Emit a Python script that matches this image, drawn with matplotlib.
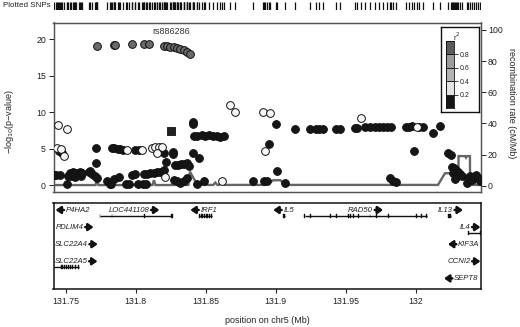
import matplotlib
matplotlib.use('Agg')
import matplotlib.pyplot as plt
from matplotlib.patches import Rectangle

plt.rcParams['font.family'] = ['Liberation Sans', 'DejaVu Sans']

# ---------------- data ----------------
# r^2 >= 0.8 (dark grey)
hi_pos = [131.7726, 131.7844, 131.7856, 131.7971, 131.8063, 131.8094, 131.8201, 131.8225,
          131.8249, 131.8272, 131.8296, 131.8320, 131.8343, 131.8368, 131.8386]
hi_logp = [19.1, 19.2, 19.2, 19.3, 19.35, 19.35, 19.05, 19.05, 19.0, 18.95, 18.85, 18.7,
           18.5, 18.2, 17.95]

# r^2 0.2-0.4 (white)
mid_pos = [131.7445, 131.7512, 131.7441, 131.7464, 131.7488, 131.7940, 131.8047, 131.8118,
           131.8138, 131.8165, 131.8192, 131.8154, 131.8208, 131.8617, 131.8676, 131.8707,
           131.8909, 131.8961, 131.8926, 131.9610, 132.0007]
mid_logp = [8.3, 7.7, 5.05, 5.0, 4.0, 4.8, 4.85, 5.1, 5.2, 5.25, 5.2, 4.35, 1.14, 0.55, 11.0,
            10.07, 9.98, 9.85, 4.71, 9.25, 8.0]

# r^2 < 0.2 (black)
low_pos = [131.7452, 131.7476, 131.7418, 131.7429, 131.7457, 131.7512, 131.7514, 131.7529,
           131.7536, 131.7550, 131.7557, 131.7564, 131.7571, 131.7578, 131.7593, 131.7600,
           131.7607, 131.7614, 131.7664, 131.7678, 131.7692, 131.7707, 131.7721, 131.7719,
           131.7719, 131.7797, 131.7814, 131.7828, 131.7844, 131.7880, 131.7935, 131.7951,
           131.7976, 131.7999, 131.8015, 131.8054, 131.8075, 131.7833, 131.7849, 131.7871,
           131.7892, 131.7913, 131.7999, 131.8023, 131.8058, 131.8082, 131.8106, 131.8129,
           131.8154, 131.8177, 131.8201, 131.8201, 131.8218, 131.8268, 131.8268, 131.8284,
           131.8306, 131.8327, 131.8348, 131.8370, 131.8384, 131.8272, 131.8296, 131.8320,
           131.8343, 131.8368, 131.8410, 131.8410, 131.8410, 131.8450, 131.8439, 131.8486,
           131.8415, 131.8439, 131.8475, 131.8498, 131.8522, 131.8550, 131.8581, 131.8605,
           131.8634, 131.8835, 131.8914, 131.8938, 131.8956, 131.9002, 131.9009, 131.9068,
           131.9135, 131.9242, 131.9289, 131.9313, 131.9337, 131.9432, 131.9456, 131.9567,
           131.9584, 131.9639, 131.9674, 131.9710, 131.9741, 131.9769, 131.9798, 131.9822,
           131.9929, 131.9952, 131.9976, 132.0024, 132.0054, 132.0121, 132.0173, 131.9988,
           131.9817, 131.9838, 131.9860, 132.0233, 132.0252, 132.0259, 132.0273, 132.0287,
           132.0302, 132.0266, 132.0295, 132.0316, 132.0330, 132.0280, 132.0364, 132.0373,
           132.0387, 132.0402, 132.0416, 132.0430, 132.0444, 132.0459]
low_logp = [4.67, 4.45, 1.4, 1.35, 1.35, 0.1, 1.3, 1.6,
            1.2, 1.8, 1.5, 1.3, 1.1, 1.7, 1.5, 1.8,
            1.3, 1.6, 1.8, 1.9, 1.5, 1.2, 1.0, 5.12,
            3.07, 0.55, 0.2, 0.1, 0.78, 1.14, 0.1, 0.1,
            1.37, 1.5, 0.1, 0.1, 0.1, 5.1, 5.05, 5.0,
            4.9, 4.85, 4.8, 4.8, 1.5, 1.5, 1.6, 1.7,
            1.83, 1.83, 2.06, 4.35, 3.2, 4.57, 4.2, 2.8,
            2.8, 2.9, 2.9, 3.0, 2.6, 0.7, 0.5, 0.3,
            0.6, 0.9, 8.7, 8.4, 4.44, 3.75, 0.2, 0.55,
            6.8, 6.7, 6.85, 6.7, 6.85, 6.75, 6.7, 6.6,
            6.7, 0.55, 0.55, 0.55, 5.63, 8.33, 1.92, 0.23,
            7.69, 7.69, 7.69, 7.69, 7.69, 7.69, 7.69, 7.8,
            7.8, 8.0, 8.0, 8.0, 8.0, 8.0, 8.0, 8.0,
            8.0, 8.0, 8.05, 8.0, 8.0, 7.1, 8.1, 4.7,
            0.9, 0.6, 0.4, 4.35, 4.1, 2.5, 2.3, 2.0,
            1.8, 1.6, 1.3, 1.5, 1.2, 0.8, 0.3, 0.9,
            1.2, 0.7, 1.1, 1.4, 0.9, 0.6]

index_name = 'rs886286'
index_pos = 131.8256
index_logp = 7.46

# recombination rate (cM/Mb)
recomb_pos = [131.7414, 131.7714, 131.7725, 131.7735, 131.8120, 131.8131, 131.8142, 131.8377,
              131.8388, 131.8441, 131.8555, 131.8569, 131.8584, 131.8598, 131.8612, 131.8634,
              131.8926, 131.8983, 131.9033, 131.9076, 132.0159, 132.0209, 132.0259, 132.0287,
              132.0305, 132.0306, 132.0352, 132.0359, 132.0366, 132.0387, 132.0388, 132.0466]
recomb_rate = [0.4, 0.4, 4.0, 0.4, 0.4, 3.5, 0.4, 0.5,
               9.0, 0.5, 0.5, 2.0, 0.5, 0.5, 2.5, 0.5,
               0.5, 3.5, 3.5, 0.5, 0.5, 8.0, 8.0, 11.4,
               11.4, 19.0, 19.0, 18.0, 19.0, 19.0, 0.5, 0.5]

# genes
gene_names = ['P4HA2', 'LOC441108', 'IRF1', 'IL5', 'RAD50', 'IL13', 'PDLIM4', 'IL4',
              'SLC22A4', 'KIF3A', 'SLC22A5', 'CCNI2', 'SEPT8']
gene_start = [131.55, 131.7745, 131.8453, 131.9052, 131.9206, 132.0228, 131.62, 132.0375,
              131.69, 132.06, 131.7300, 132.12, 132.10]
gene_end = [131.59, 131.8261, 131.8546, 131.9070, 132.0077, 132.0250, 131.65, 132.0530,
            131.73, 132.10, 131.7595, 132.14, 132.13]
gene_strand = [-1, 1, -1, -1, 1, 1, 1, 1, 1, -1, 1, 1, -1]
gene_row = [0, 0, 0, 0, 0, 0, 1, 1, 2, 2, 3, 3, 4]
gene_label_tip = [131.7429, 131.8170, 131.8391, 131.8983, 131.9767, 132.0337, 131.7700,
                  132.0462, 131.7730, 132.0230, 131.7728, 132.0462, 132.0202]
gene_exons = [
    [],
    [(131.7743, 131.7749), (131.7831, 131.7835), (131.8061, 131.8065), (131.8255, 131.8265)],
    [(131.8450, 131.8462), (131.8468, 131.8480), (131.8486, 131.8498), (131.8504, 131.8516),
     (131.8522, 131.8534), (131.8538, 131.8548)],
    [(131.9055, 131.9068)],
    [(131.9203, 131.9209), (131.9244, 131.9250), (131.9386, 131.9392), (131.9434, 131.9440),
     (131.9517, 131.9523), (131.9529, 131.9535), (131.9552, 131.9558), (131.9588, 131.9594),
     (131.9671, 131.9677), (131.9719, 131.9725), (131.9802, 131.9808), (132.0004, 132.0010),
     (132.0040, 132.0046), (132.0071, 132.0077)],
    [(132.0230, 132.0250)],
    [],
    [(132.0372, 132.0378), (132.0457, 132.0463)],
    [],
    [],
    [(131.7470, 131.7482), (131.7488, 131.7498), (131.7503, 131.7511), (131.7517, 131.7525),
     (131.7532, 131.7540), (131.7546, 131.7554), (131.7567, 131.7575), (131.7589, 131.7597)],
    [],
    [],
]

xticks = [131.75, 131.8, 131.85, 131.9, 131.95, 132.0]
xtick_labels = ['131.75', '131.8', '131.85', '131.9', '131.95', '132']
r2_bins = [0.0, 0.2, 0.4, 0.6, 0.8, 1.0]
r2_colors = ['#161616', '#e4e4e4', '#b4b4b4', '#9c9c9c', '#5c5c5c']

# ---------------- layout ----------------
W, H = 520, 327
fig = plt.figure(figsize=(W / 100, H / 100), dpi=100)


def px_axes(x0, y0, x1, y1):
    return fig.add_axes([x0 / W, (H - y1) / H, (x1 - x0) / W, (y1 - y0) / H])


XLIM = (131.7414, 132.0466)
main_l, main_r = 53.5, 481.0

ax = px_axes(main_l, 22.5, main_r, 192.0)
ax2 = ax.twinx()
ax.set_zorder(ax2.get_zorder() + 1)
ax.patch.set_visible(False)

ax2.plot(recomb_pos, recomb_rate, color='#666666', lw=1.7, solid_joinstyle='miter', zorder=1)
ax2.set_ylim(-4.05, 104.8)
ax2.set_yticks([0, 20, 40, 60, 80, 100])
ax2.tick_params(axis='y', labelsize=6.3, length=3.5, width=0.7, pad=1.5, colors='#222222')
ax2.set_ylabel('recombination rate (cM/Mb)', rotation=270, fontsize=6.5, color='#222222')
ax2.yaxis.set_label_coords(1.082, 0.525)

mk = dict(s=31, linewidths=0.7, edgecolors='#111111', zorder=3)
ax.scatter(low_pos, low_logp, c=r2_colors[0], **mk)
ax.scatter(mid_pos, mid_logp, c='#f7f7f7', **mk)
ax.scatter(hi_pos, hi_logp, c='#6a6a6a', **mk)
ax.scatter([index_pos], [index_logp], marker='s', s=26, c='#222222', edgecolors='#111111',
           linewidths=0.6, zorder=4)
ax.text(index_pos, 21.15, index_name, ha='center', va='center', fontsize=6.5, color='#333333')

ax.set_xlim(*XLIM)
ax2.set_xlim(*XLIM)
ax.set_ylim(-0.96, 22.32)
ax.set_yticks([0, 5, 10, 15, 20])
ax.set_xticks([])
ax.tick_params(axis='y', labelsize=6.3, length=3.5, width=0.7, pad=2, colors='#222222')
ax.set_ylabel('\u2212log$_{10}$(p\u2212value)', fontsize=6.5, color='#222222')
ax.yaxis.set_label_coords(-0.088, 0.413)
for a in (ax, ax2):
    for s in a.spines.values():
        s.set_color('#555555')
        s.set_linewidth(0.9)

# ---------------- rug ----------------
axr = px_axes(main_l, 1.5, main_r, 9.5)
all_pos = low_pos + mid_pos + hi_pos + [index_pos]
axr.vlines(all_pos, 0, 1, color='#111111', lw=0.9)
axr.set_xlim(*XLIM)
axr.set_ylim(0, 1)
axr.axis('off')
fig.text(50.5 / W, (H - 5.5) / H, 'Plotted SNPs', ha='right', va='center', fontsize=5.8,
         color='#222222')

# ---------------- r2 legend ----------------
axl = px_axes(440.7, 26.7, 479.0, 112.3)
axl.set_xticks([])
axl.set_yticks([])
for s in axl.spines.values():
    s.set_color('#111111')
    s.set_linewidth(1.0)
axl.text(0.43, 0.885, 'r$^2$', transform=axl.transAxes, ha='center', va='center',
         fontsize=5.5, color='#222222')

axc = px_axes(446.0, 40.7, 454.3, 108.3)
for i in range(len(r2_colors)):
    axc.add_patch(Rectangle((0, r2_bins[i]), 1, r2_bins[i + 1] - r2_bins[i],
                            facecolor=r2_colors[i], edgecolor='#111111', lw=0.6))
axc.set_xlim(0, 1)
axc.set_ylim(0, 1)
axc.set_xticks([])
axc.yaxis.tick_right()
axc.set_yticks([0.2, 0.4, 0.6, 0.8])
axc.set_yticklabels(['0.2', '0.4', '0.6', '0.8'])
axc.tick_params(axis='y', labelsize=5, length=3, width=0.6, pad=0.8, colors='#222222')
for s in axc.spines.values():
    s.set_color('#111111')
    s.set_linewidth(0.6)

# ---------------- genes ----------------
axg = px_axes(main_l, 203.0, main_r, 289.0)
axg.set_xlim(*XLIM)
axg.set_ylim(86, 0)
row_y0, row_dy, line_off = 7.0, 17.1, 5.7
arrow_pts, gap_pts = 6.0, 1.2
for name, st, en, strand, row, tip, exons in zip(gene_names, gene_start, gene_end, gene_strand,
                                                  gene_row, gene_label_tip, gene_exons):
    ly = row_y0 + row * row_dy
    gy = ly + line_off
    axg.plot([st, en], [gy, gy], color='#111111', lw=1.0, solid_capstyle='butt')
    for (es, ee) in exons:
        axg.add_patch(Rectangle((es, gy - 1.9), ee - es, 3.8, facecolor='#111111',
                                edgecolor='#111111', lw=0.3))
    axg.annotate('', xy=(tip, ly), xytext=(-strand * arrow_pts, 0), textcoords='offset points',
                 arrowprops=dict(arrowstyle='-|>,head_length=0.5,head_width=0.35',
                                 mutation_scale=6, lw=1.8, color='#111111',
                                 shrinkA=0, shrinkB=0))
    off = -strand * (arrow_pts + gap_pts)
    axg.annotate(name, xy=(tip, ly), xytext=(off, 0), textcoords='offset points',
                 ha='right' if strand > 0 else 'left', va='center', fontsize=5.6,
                 style='italic', color='#222222')

axg.set_yticks([])
axg.set_xticks(xticks)
axg.set_xticklabels(xtick_labels)
axg.tick_params(axis='x', labelsize=6.3, length=3.2, width=0.8, pad=2.5, colors='#222222')
axg.set_xlabel('position on chr5 (Mb)', fontsize=6.5, color='#222222')
axg.xaxis.set_label_coords(0.5, -0.31)
for s in axg.spines.values():
    s.set_color('#111111')
    s.set_linewidth(1.1)

fig.savefig('out.png', dpi=100)
